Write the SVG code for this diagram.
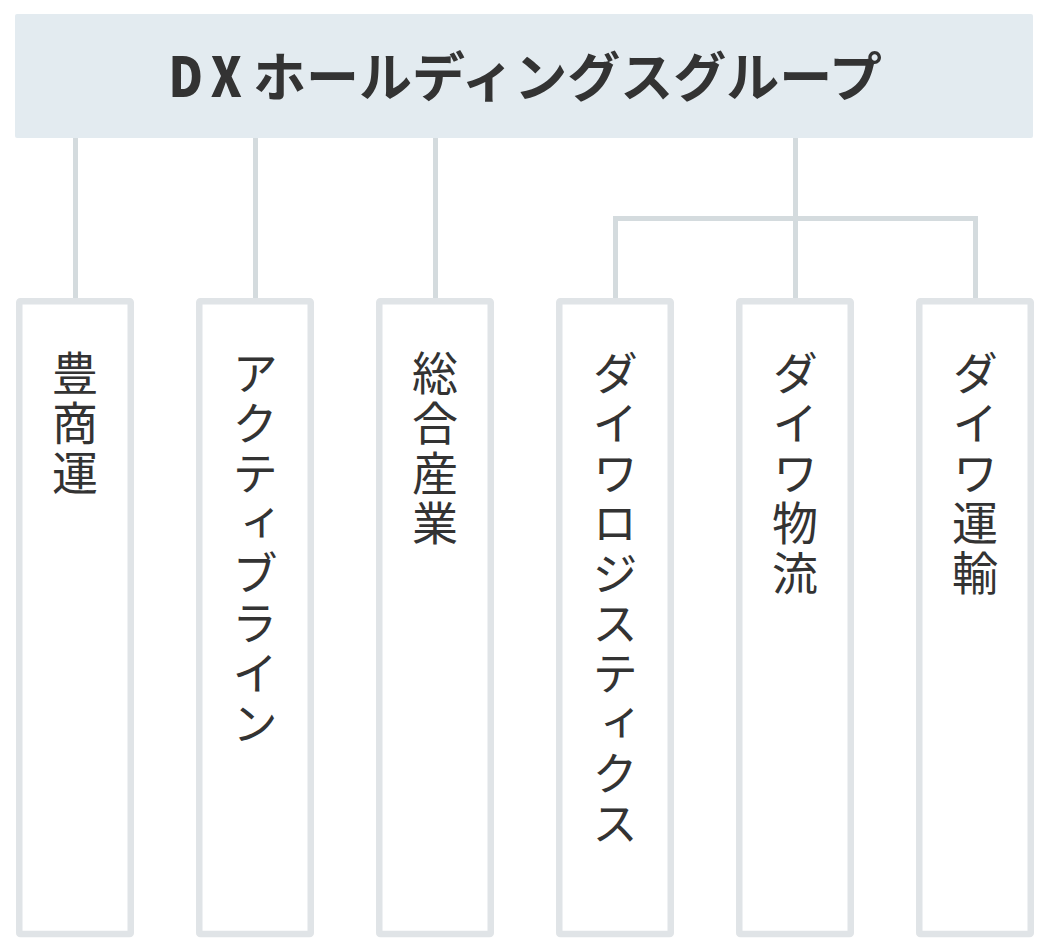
<svg xmlns="http://www.w3.org/2000/svg" width="1050" height="951" viewBox="0 0 1050 951">
<style>
.conn{stroke:#d4dbde;stroke-width:5;fill:none;stroke-linecap:butt}
.box{fill:#ffffff;stroke:#e0e4e7;stroke-width:6.5}
.vt{font-family:"Noto Sans CJK JP","Noto Sans",sans-serif;font-size:46px;fill:#333333;writing-mode:vertical-rl;letter-spacing:4px}
.hd{font-family:"Noto Sans CJK JP","Noto Sans",sans-serif;font-size:53px;font-weight:bold;fill:#333333}
</style>
<rect width="1050" height="951" fill="#ffffff"/>
<g id="connectors">
<line class="conn" x1="75.5" y1="136" x2="75.5" y2="300"/>
<line class="conn" x1="255.5" y1="136" x2="255.5" y2="300"/>
<line class="conn" x1="435.5" y1="136" x2="435.5" y2="300"/>
<line class="conn" x1="795.5" y1="136" x2="795.5" y2="300"/>
<path class="conn" d="M615.5 300 V218.5 H975.5 V300"/>
</g>
<g id="header">
<rect x="15" y="14" width="1018" height="124" rx="2" fill="#e3ebf0"/>
<text class="hd" style="font-size:55px;font-weight:900" transform="scale(0.86,1)" y="97" x="195.9 245">DX</text>
<text class="hd" x="253" y="97">ホールディングスグループ</text>
</g>
<g id="n1"><rect class="box" x="19.25" y="301.25" width="111.5" height="632.75" rx="1"/><text class="vt" x="75" y="350">豊商運</text></g>
<g id="n2"><rect class="box" x="199.25" y="301.25" width="111.5" height="632.75" rx="1"/><text class="vt" x="255" y="350">アクティブライン</text></g>
<g id="n3"><rect class="box" x="379.25" y="301.25" width="111.5" height="632.75" rx="1"/><text class="vt" x="435" y="350">総合産業</text></g>
<g id="n4"><rect class="box" x="559.25" y="301.25" width="111.5" height="632.75" rx="1"/><text class="vt" x="615" y="350">ダイワロジスティクス</text></g>
<g id="n5"><rect class="box" x="739.25" y="301.25" width="111.5" height="632.75" rx="1"/><text class="vt" x="795" y="350">ダイワ物流</text></g>
<g id="n6"><rect class="box" x="919.25" y="301.25" width="111.5" height="632.75" rx="1"/><text class="vt" x="975" y="350">ダイワ運輸</text></g>
</svg>
